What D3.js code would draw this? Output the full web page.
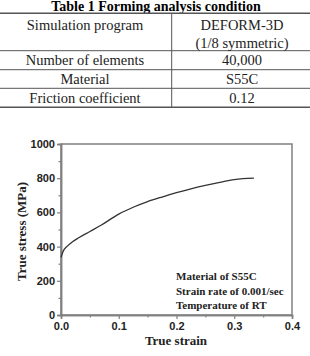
<!DOCTYPE html>
<html>
<head>
<meta charset="utf-8">
<script src="https://cdn.jsdelivr.net/npm/d3@7"></script>
<style>
  body { margin: 0; background: #fff; }
  svg { display: block; }
</style>
</head>
<body>
<div id="chart"></div>
<script>
// table content
const tableTitle = "Table 1 Forming analysis condition";
const tableRows = [
    ["Simulation program", ["DEFORM-3D", "(1/8 symmetric)"]],
    ["Number of elements", ["40,000"]],
    ["Material", ["S55C"]],
    ["Friction coefficient", ["0.12"]]
];

// flow curve
const strain = [0.0, 0.004, 0.01, 0.02, 0.03, 0.05, 0.07, 0.1, 0.125, 0.15, 0.175, 0.2, 0.225, 0.25, 0.275, 0.3, 0.315, 0.334];
const stress = [337, 375, 400, 428, 450, 488, 526, 590, 630, 663, 690, 715, 738, 758, 776, 792, 797, 800];

const xTicks = [0.0, 0.1, 0.2, 0.3, 0.4];
const yTicks = [0, 200, 400, 600, 800, 1000];
const notes = ["Material of S55C", "Strain rate of 0.001/sec", "Temperature of RT"];

const W = 310, H = 356;
const svg = d3.select("#chart").append("svg").attr("width", W).attr("height", H);

const serif = "'Liberation Serif', 'Times New Roman', serif";
const sans = "'Liberation Sans', Arial, sans-serif";

// ---- table ----
svg.append("text")
    .attr("x", 156).attr("y", 10.5)
    .attr("text-anchor", "middle")
    .attr("font-family", serif).attr("font-weight", "bold").attr("font-size", 14)
    .text(tableTitle);

const rowLines = [13.3, 50.7, 69.7, 88.3, 107.3];
const colSplit = 171.7;
rowLines.forEach((y, i) => {
    svg.append("line")
        .attr("x1", 0).attr("x2", W).attr("y1", y).attr("y2", y)
        .attr("stroke", "#555")
        .attr("stroke-width", (i === 0 || i === rowLines.length - 1) ? 1.6 : 1);
});
svg.append("line")
    .attr("x1", colSplit).attr("x2", colSplit)
    .attr("y1", rowLines[0]).attr("y2", rowLines[rowLines.length - 1])
    .attr("stroke", "#555").attr("stroke-width", 1);

tableRows.forEach((row, i) => {
    const top = rowLines[i], bot = rowLines[i + 1];
    const firstLine = row[1].length > 1 ? top + 16.5 : (top + bot) / 2 + 5;
    svg.append("text")
        .attr("x", 85).attr("y", firstLine)
        .attr("text-anchor", "middle")
        .attr("font-family", serif).attr("font-size", 14.5).attr("fill", "#222")
        .text(row[0]);
    row[1].forEach((t, j) => {
        svg.append("text")
            .attr("x", 242).attr("y", firstLine + j * 18)
            .attr("text-anchor", "middle")
            .attr("font-family", serif).attr("font-size", 14.5).attr("fill", "#222")
            .text(t);
    });
});

// ---- chart ----
const plot = {left: 61, top: 144, right: 292, bottom: 315};
const x = d3.scaleLinear().domain([0, 0.4]).range([plot.left, plot.right]);
const y = d3.scaleLinear().domain([0, 1000]).range([plot.bottom, plot.top]);

const axisColor = "#808080";

// frame
svg.append("rect")
    .attr("x", plot.left).attr("y", plot.top)
    .attr("width", plot.right - plot.left).attr("height", plot.bottom - plot.top)
    .attr("fill", "none").attr("stroke", axisColor).attr("stroke-width", 1.5);

const xAxis = svg.append("g")
    .attr("transform", `translate(0,${plot.bottom})`)
    .call(d3.axisBottom(x).tickValues(xTicks).tickFormat(d3.format(".1f")).tickSize(4).tickPadding(3));
const xMinor = svg.append("g")
    .attr("transform", `translate(0,${plot.bottom})`)
    .call(d3.axisBottom(x).tickValues([0.05, 0.15, 0.25, 0.35]).tickFormat("").tickSize(2.5));

const yAxis = svg.append("g")
    .attr("transform", `translate(${plot.left},0)`)
    .call(d3.axisLeft(y).tickValues(yTicks).tickFormat(d3.format("d")).tickSize(4).tickPadding(2));
const yMinor = svg.append("g")
    .attr("transform", `translate(${plot.left},0)`)
    .call(d3.axisLeft(y).tickValues([100, 300, 500, 700, 900]).tickFormat("").tickSize(2.5));

[xAxis, xMinor, yAxis, yMinor].forEach(g => {
    g.select(".domain").attr("stroke", axisColor).attr("stroke-width", 1.5);
    g.selectAll(".tick line").attr("stroke", axisColor).attr("stroke-width", 1.2);
    g.selectAll(".tick text")
        .attr("font-family", sans).attr("font-weight", "bold").attr("font-size", 11).attr("fill", "#222");
});

// curve
const pts = strain.map((s, i) => [s, stress[i]]);
svg.append("path")
    .datum(pts)
    .attr("fill", "none")
    .attr("stroke", "#333")
    .attr("stroke-width", 1.3)
    .attr("d", d3.line().x(d => x(d[0])).y(d => y(d[1])).curve(d3.curveMonotoneX));

// axis titles
svg.append("text")
    .attr("transform", `translate(26,${(plot.top + plot.bottom) / 2 + 2}) rotate(-90)`)
    .attr("text-anchor", "middle")
    .attr("font-family", serif).attr("font-weight", "bold").attr("font-size", 13).attr("fill", "#222")
    .text("True stress (MPa)");
svg.append("text")
    .attr("x", 176).attr("y", 345)
    .attr("text-anchor", "middle")
    .attr("font-family", serif).attr("font-weight", "bold").attr("font-size", 13).attr("fill", "#222")
    .text("True strain");

// annotation
notes.forEach((t, i) => {
    svg.append("text")
        .attr("x", 176).attr("y", 280 + i * 14.5)
        .attr("font-family", serif).attr("font-weight", "bold").attr("font-size", 11).attr("fill", "#222")
        .text(t);
});
</script>
</body>
</html>
